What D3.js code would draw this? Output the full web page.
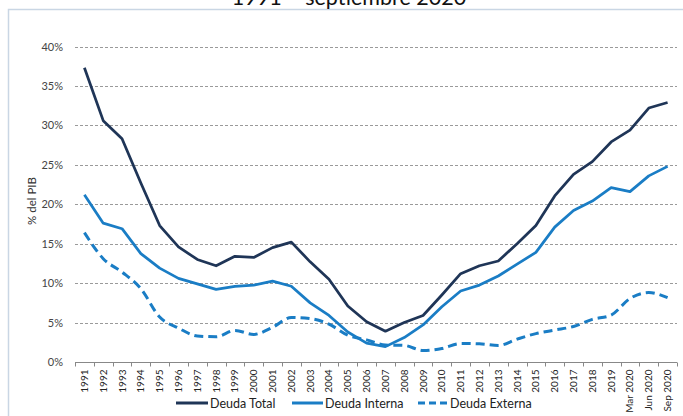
<!DOCTYPE html>
<html>
<head>
<meta charset="utf-8">
<script src="https://cdn.jsdelivr.net/npm/d3@7"></script>
<style>
  html, body { margin: 0; padding: 0; background: #fff; }
  svg { display: block; font-family: Lato, "Open Sans", sans-serif; }
</style>
</head>
<body>
<svg id="chart" width="683" height="416"></svg>
<script>
const categories = ["1991","1992","1993","1994","1995","1996","1997","1998","1999","2000",
  "2001","2002","2003","2004","2005","2006","2007","2008","2009","2010",
  "2011","2012","2013","2014","2015","2016","2017","2018","2019","Mar 2020","Jun 2020","Sep 2020"];

const deudaTotal = [37.3,30.6,28.3,22.7,17.3,14.6,13.0,12.2,13.4,13.25,
  14.5,15.2,12.7,10.5,7.1,5.1,3.9,5.0,5.9,8.5,
  11.2,12.2,12.8,15.0,17.3,21.05,23.8,25.4,27.9,29.4,32.2,32.9];

const deudaInterna = [21.2,17.6,16.9,13.75,11.9,10.6,9.9,9.2,9.6,9.75,
  10.25,9.6,7.5,5.9,3.8,2.4,1.95,3.1,4.7,7.0,
  9.0,9.75,10.9,12.4,13.9,17.1,19.2,20.4,22.1,21.6,23.6,24.8];

const deudaExterna = [16.4,13.1,11.4,9.3,5.7,4.3,3.3,3.2,4.0,3.5,
  4.4,5.65,5.5,4.8,3.4,2.8,2.15,2.1,1.45,1.7,
  2.35,2.3,2.1,2.9,3.6,4.05,4.5,5.4,5.95,8.05,8.8,8.15];

const yTicks = [0,5,10,15,20,25,30,35,40];
const yTickLabels = ["0%","5%","10%","15%","20%","25%","30%","35%","40%"];

const title = "1991 – septiembre 2020";
const yTitle = "% del PIB";
const seriesNames = ["Deuda Total","Deuda Interna","Deuda Externa"];

const colTotal = "#1f3557";
const colBlue = "#1a7dc5";

const svg = d3.select("#chart");

// outer panel border
svg.append("rect")
  .attr("x", 8.5).attr("y", 9.5).attr("width", 700).attr("height", 430)
  .attr("fill", "none").attr("stroke", "#c9d6e4").attr("stroke-width", 1.5);

// title (cut at top, as in the reference)
svg.append("text")
  .attr("x", 349).attr("y", 5)
  .attr("text-anchor", "middle")
  .attr("font-size", 21.5)
  .attr("fill", "#111")
  .text(title);

const pLeft = 75, pRight = 677, pTop = 46.5, pBottom = 362;

const x = d3.scaleBand().domain(categories).range([pLeft, pRight]).padding(0);
const y = d3.scaleLinear().domain([0, 40]).range([pBottom, pTop]);
const cx = d => x(d) + x.bandwidth() / 2;

// gridlines
svg.append("g")
  .selectAll("line")
  .data(yTicks.filter(t => t > 0))
  .join("line")
  .attr("x1", pLeft).attr("x2", pRight)
  .attr("y1", d => Math.round(y(d)) + 0.5).attr("y2", d => Math.round(y(d)) + 0.5)
  .attr("stroke", "#9a9a9a")
  .attr("stroke-width", 1)
  .attr("stroke-dasharray", "3,2");

// y axis labels
const yAxis = d3.axisLeft(y).tickValues(yTicks)
  .tickFormat((d, i) => yTickLabels[i]).tickSize(0).tickPadding(12);
const gy = svg.append("g").attr("transform", `translate(${pLeft},0)`).call(yAxis);
gy.select(".domain").remove();
gy.selectAll("text").attr("font-size", 11).attr("fill", "#444").attr("font-family", "Lato, sans-serif");

// x axis
const gx = svg.append("g").attr("transform", `translate(0,${Math.round(pBottom) + 0.5})`);
gx.append("line").attr("x1", pLeft).attr("x2", pRight).attr("stroke", "#888").attr("stroke-width", 1);
const bounds = categories.map(c => x(c)).concat([pRight]);
gx.selectAll("line.tk").data(bounds).join("line").attr("class", "tk")
  .attr("x1", d => Math.round(d) + 0.5).attr("x2", d => Math.round(d) + 0.5)
  .attr("y1", 0).attr("y2", 4).attr("stroke", "#888");
gx.selectAll("text").data(categories).join("text")
  .attr("transform", d => `translate(${cx(d) + 3.5},${7}) rotate(-90)`)
  .attr("text-anchor", "end")
  .attr("font-size", 10)
  .attr("fill", "#222")
  .text(d => d);

// y title
svg.append("text")
  .attr("transform", "translate(36,201) rotate(-90)")
  .attr("text-anchor", "middle")
  .attr("font-size", 11.5)
  .attr("fill", "#333")
  .text(yTitle);

// lines
const lineLin = d3.line().x((d, i) => cx(categories[i])).y(d => y(d));
const lineSmooth = d3.line().x((d, i) => cx(categories[i])).y(d => y(d)).curve(d3.curveMonotoneX);

svg.append("path").datum(deudaExterna)
  .attr("d", lineSmooth).attr("fill", "none")
  .attr("stroke", colBlue).attr("stroke-width", 3)
  .attr("stroke-dasharray", "9,5");

svg.append("path").datum(deudaInterna)
  .attr("d", lineLin).attr("fill", "none")
  .attr("stroke", colBlue).attr("stroke-width", 2.75)
  .attr("stroke-linejoin", "round");

svg.append("path").datum(deudaTotal)
  .attr("d", lineLin).attr("fill", "none")
  .attr("stroke", colTotal).attr("stroke-width", 2.75)
  .attr("stroke-linejoin", "round");

// legend
const legend = [
  {name: seriesNames[0], color: colTotal, dash: null, x1: 176, x2: 208},
  {name: seriesNames[1], color: colBlue, dash: null, x1: 292, x2: 323},
  {name: seriesNames[2], color: colBlue, dash: "7,4", x1: 418, x2: 448}
];
const lg = svg.append("g");
legend.forEach(l => {
  lg.append("line").attr("x1", l.x1).attr("x2", l.x2).attr("y1", 403).attr("y2", 403)
    .attr("stroke", l.color).attr("stroke-width", 3)
    .attr("stroke-dasharray", l.dash);
  lg.append("text").attr("x", l.x2 + 2).attr("y", 407.5)
    .attr("font-size", 12.5).attr("fill", "#222").text(l.name);
});
</script>
</body>
</html>
